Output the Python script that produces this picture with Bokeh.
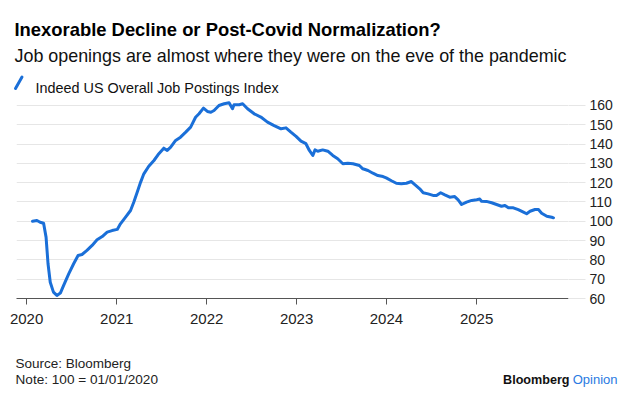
import pandas as pd
from bokeh.plotting import figure
from bokeh.layouts import column, row
from bokeh.models import ColumnDataSource, FixedTicker, DatetimeTickFormatter, Range1d
from bokeh.core.properties import value
from bokeh.embed import file_html
from bokeh.resources import INLINE

# ---- data ----
dates = [
    "2020-01-25", "2020-02-12", "2020-02-25", "2020-03-10", "2020-03-20", "2020-03-28",
    "2020-04-06", "2020-04-19", "2020-05-03", "2020-05-17", "2020-05-30", "2020-06-20",
    "2020-07-10", "2020-07-28", "2020-08-13", "2020-09-02", "2020-09-23", "2020-10-13",
    "2020-11-03", "2020-11-23", "2020-12-13", "2021-01-03", "2021-01-16", "2021-02-05",
    "2021-02-26", "2021-03-11", "2021-03-25", "2021-04-08", "2021-04-21", "2021-05-11",
    "2021-06-01", "2021-06-21", "2021-07-11", "2021-07-25", "2021-08-08", "2021-08-28",
    "2021-09-17", "2021-10-08", "2021-10-28", "2021-11-17", "2021-12-01", "2021-12-19",
    "2022-01-04", "2022-01-18", "2022-01-31", "2022-02-20", "2022-03-13", "2022-04-02",
    "2022-04-16", "2022-04-22", "2022-05-13", "2022-05-27", "2022-06-16", "2022-07-13",
    "2022-08-09", "2022-09-05", "2022-10-02", "2022-10-30", "2022-11-19", "2022-12-09",
    "2022-12-30", "2023-01-19", "2023-02-08", "2023-02-22", "2023-03-08", "2023-03-17",
    "2023-03-28", "2023-04-17", "2023-05-08", "2023-05-28", "2023-06-17", "2023-07-08",
    "2023-07-28", "2023-08-18", "2023-09-13", "2023-09-27", "2023-10-18", "2023-11-07",
    "2023-11-27", "2023-12-18", "2023-12-31", "2024-01-21", "2024-02-10", "2024-03-01",
    "2024-03-22", "2024-04-11", "2024-04-24", "2024-05-15", "2024-05-29", "2024-06-18",
    "2024-07-08", "2024-07-22", "2024-08-08", "2024-08-25", "2024-09-14", "2024-10-04",
    "2024-10-18", "2024-11-01", "2024-11-21", "2024-12-12", "2025-01-01", "2025-01-14",
    "2025-01-21", "2025-02-10", "2025-03-03", "2025-03-23", "2025-04-12", "2025-04-26",
    "2025-05-10", "2025-05-30", "2025-06-19", "2025-07-10", "2025-07-23", "2025-08-06",
    "2025-08-26", "2025-09-09", "2025-09-22", "2025-10-13", "2025-11-02", "2025-11-09",
]
index_values = [
    100.0, 100.4, 99.5, 99.0, 91.8, 78.0,
    68.4, 63.3, 61.6, 62.8, 66.7, 72.8,
    78.0, 82.3, 82.8, 84.9, 87.5, 90.4,
    92.1, 94.4, 95.2, 95.8, 98.7, 102.0,
    105.6, 109.9, 115.1, 120.3, 124.6, 128.5,
    131.5, 135.0, 137.9, 136.7, 138.4, 141.9,
    143.6, 146.2, 148.8, 153.9, 155.7, 158.6,
    156.9, 156.5, 157.4, 160.0, 160.9, 161.4,
    158.3, 160.4, 160.4, 160.9, 158.3, 155.7,
    154.0, 151.4, 149.6, 147.9, 148.4, 146.2,
    144.0, 141.5, 140.2, 136.7, 134.1, 137.0,
    136.3, 137.0, 136.3, 134.1, 132.4, 129.8,
    130.1, 129.8, 128.9, 127.2, 126.3, 124.9,
    123.7, 123.2, 122.5, 121.0, 119.7, 119.4,
    119.7, 120.6, 119.1, 116.8, 114.8, 114.2,
    113.4, 113.4, 114.8, 113.7, 112.5, 112.8,
    111.1, 108.7, 109.9, 110.8, 111.2, 111.5,
    110.4, 110.3, 109.6, 108.7, 107.8, 108.2,
    107.0, 107.0, 106.0, 104.7, 103.9, 105.2,
    106.1, 106.1, 104.2, 102.6, 102.1, 101.8,
]
year_ticks = ["2020-01-01", "2021-01-01", "2022-01-01", "2023-01-01", "2024-01-01", "2025-01-01"]
y_ticks = [60, 70, 80, 90, 100, 110, 120, 130, 140, 150, 160]

series_name = "Indeed US Overall Job Postings Index"
title_text = "Inexorable Decline or Post-Covid Normalization?"
subtitle_text = "Job openings are almost where they were on the eve of the pandemic"
source_text = "Source: Bloomberg"
note_text = "Note: 100 = 01/01/2020"
brand_text = "Bloomberg"
brand_text2 = "Opinion"

FONT = "Liberation Sans"
BLUE = "#1a6fd8"
W = 631


def text_panel(height, top):
    """A figure with no axes whose data units equal pixels (y downward)."""
    f = figure(width=W, height=height, x_range=Range1d(0, W), y_range=Range1d(top + height, top),
               x_axis_location=None, y_axis_location=None,
               output_backend="svg", toolbar_location=None,
               min_border=0, min_border_left=0, min_border_right=0,
               min_border_top=0, min_border_bottom=0)
    f.outline_line_color = None
    f.grid.grid_line_color = None
    f.background_fill_color = "white"
    f.border_fill_color = "white"
    return f


def put(f, x, y, txt, size, bold=False, color="#111111", align="left"):
    f.text(x=[x], y=[y], text=[txt], text_font=value(FONT), text_font_size=size,
           text_font_style="bold" if bold else "normal", text_color=color,
           text_align=align, text_baseline="alphabetic")


# ---- header ----
HEAD_H = 98
head = text_panel(HEAD_H, 0)
put(head, 14, 29, title_text, "18.4px", bold=True, color="#000000")
put(head, 14, 55, subtitle_text, "17.9px", color="#111111")
put(head, 35, 87, series_name, "14.4px", color="#111111")
head.segment(x0=[15], y0=[88], x1=[21.5], y1=[76.5], line_color=BLUE, line_width=3, line_cap="round")

# ---- main chart ----
MAIN_H = 340 - HEAD_H
src = ColumnDataSource(dict(x=pd.to_datetime(dates), y=index_values))
p = figure(
    width=W, height=MAIN_H,
    x_axis_type="datetime",
    x_range=(pd.Timestamp("2019-11-21"), pd.Timestamp("2026-01-09")),
    y_range=(60, 163.1),
    y_axis_location="right",
    output_backend="svg", toolbar_location=None,
    min_border_left=16, min_border_right=63, min_border_top=1, min_border_bottom=42,
)
p.background_fill_color = "white"
p.border_fill_color = "white"
p.outline_line_color = None

p.line("x", "y", source=src, line_width=3, line_color=BLUE, line_join="round", line_cap="round")

xa = p.xaxis[0]
xa.ticker = FixedTicker(ticks=[pd.Timestamp(d).value // 10**6 for d in year_ticks])
xa.formatter = DatetimeTickFormatter(years="%Y", months="%Y", days="%Y", hours="%Y")
xa.axis_line_color = "#555555"
xa.axis_line_width = 1.2
xa.major_tick_line_color = "#555555"
xa.major_tick_in = 0
xa.major_tick_out = 6
xa.minor_tick_line_color = None
xa.major_label_standoff = 9
xa.major_label_text_font = FONT
xa.major_label_text_font_size = "15px"
xa.major_label_text_color = "#222222"

ya = p.yaxis[0]
ya.ticker = FixedTicker(ticks=y_ticks)
ya.axis_line_color = None
ya.major_tick_line_color = "#e6e6e6"
ya.major_tick_in = 0
ya.major_tick_out = 17
ya.minor_tick_line_color = None
ya.major_label_standoff = 4
ya.major_label_text_font = FONT
ya.major_label_text_font_size = "14px"
ya.major_label_text_color = "#222222"

p.xgrid.grid_line_color = None
p.ygrid.grid_line_color = "#e6e6e6"
p.ygrid.ticker = FixedTicker(ticks=y_ticks)

# ---- footer ----
FOOT_TOP = 340
foot = text_panel(399 - FOOT_TOP, FOOT_TOP)
put(foot, 15, 363, source_text, "13.5px", color="#222222")
put(foot, 15, 379, note_text, "13.6px", color="#222222")
put(foot, 569, 379, brand_text, "12.6px", bold=True, color="#111111", align="right")
put(foot, 617, 379, brand_text2, "13px", color="#2a7ae2", align="right")

layout = column(row(head), p, row(foot), spacing=0)
open("out.html", "w").write(file_html(layout, INLINE))
